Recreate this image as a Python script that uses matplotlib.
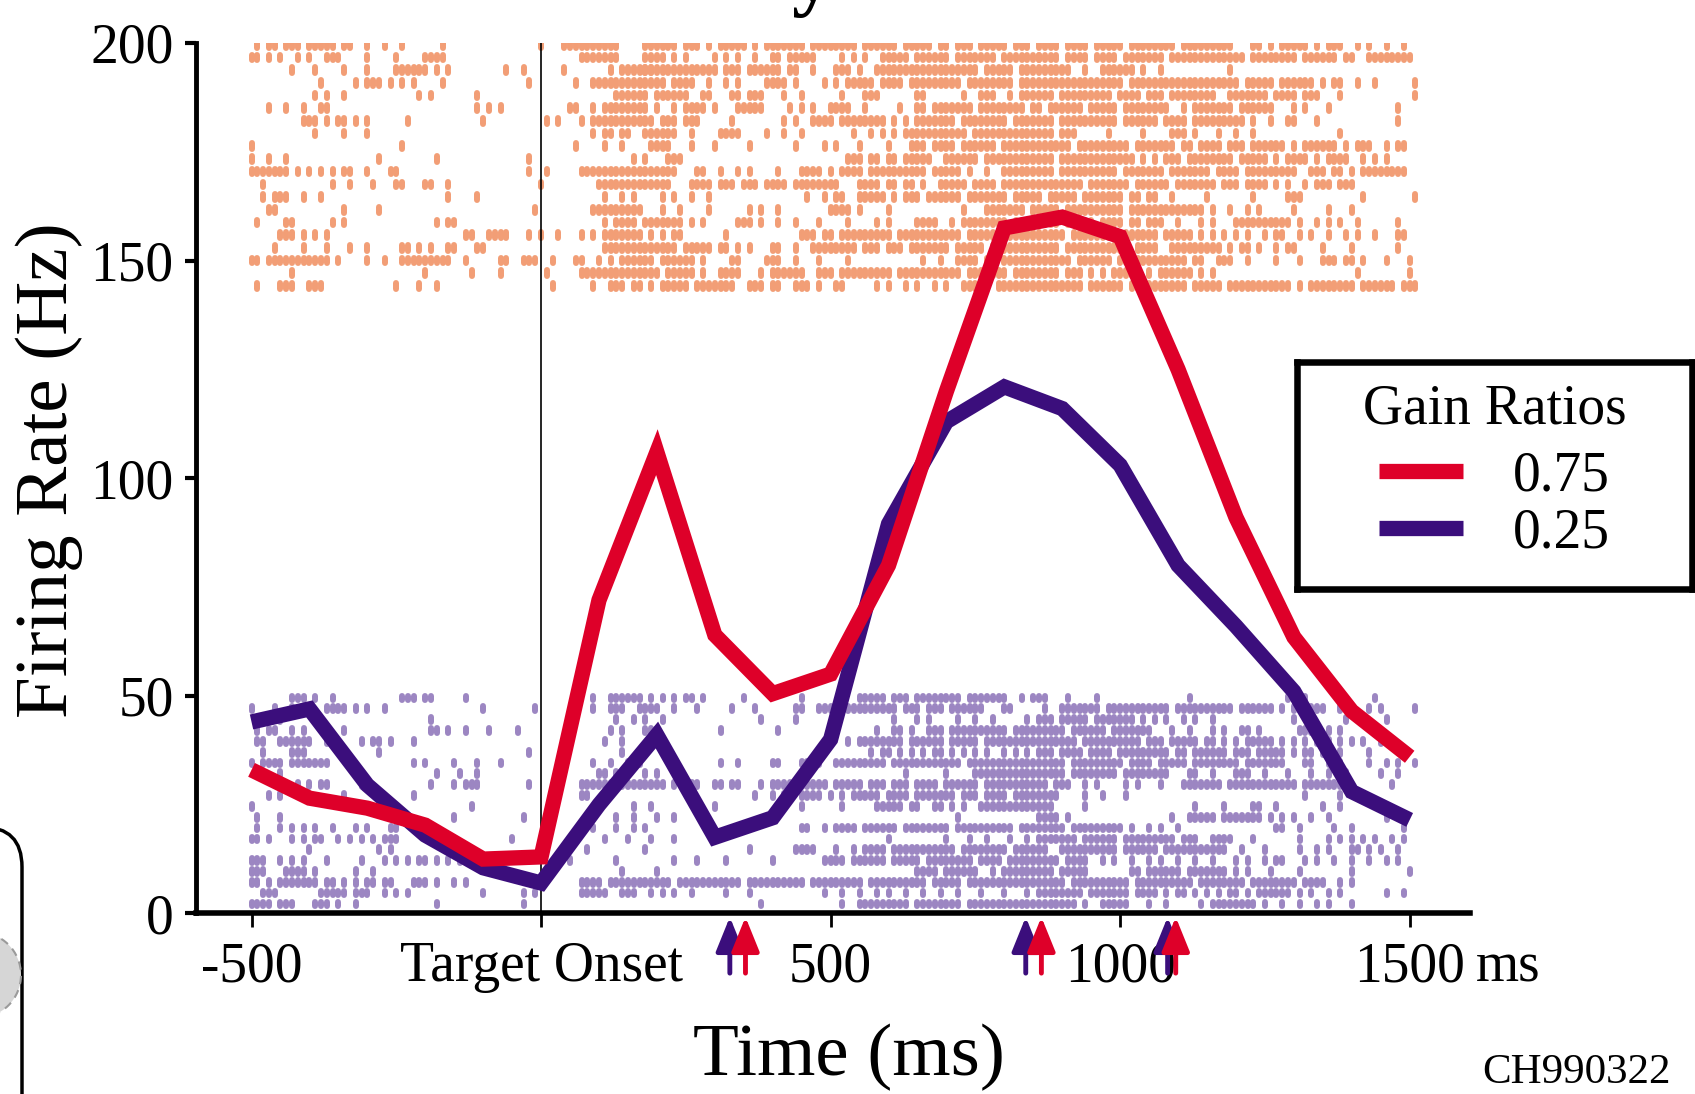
import numpy as np
import matplotlib
matplotlib.use("Agg")
import matplotlib.pyplot as plt
from matplotlib.patches import FancyBboxPatch, Circle

plt.rcParams['font.family'] = ['Liberation Serif', 'DejaVu Serif']

# mean firing rate, 100 ms steps
time_ms = [-500, -400, -300, -200, -100, 0, 100, 200, 300, 400, 500,
           600, 700, 800, 900, 1000, 1100, 1200, 1300, 1400, 1500]
rate_075 = [33, 26.5, 24.2, 20.3, 12.5, 13, 72, 106, 64, 50.5, 55,
            80, 120, 157.5, 160, 155.5, 125, 91, 63.5, 46.5, 36]
rate_025 = [44, 47, 29.5, 18, 10.5, 7, 25, 41, 17.5, 22, 40,
            89.5, 113, 121, 116, 103, 80, 66, 51, 28, 21.5]

# saccade-onset arrows (ms)
arrows_025 = [326, 837, 1082]
arrows_075 = [353, 864, 1096]

tick_ms = [-500, 0, 500, 1000, 1500]
tick_labels = ['-500', 'Target Onset', '500', '1000', '1500']

# spike rasters, one char per 10 ms bin starting at -500 ms, split in 3 chunks
# (bins 0-67, 68-135, 136-203); '#' = spike
raster_075 = [
    [".#.##.###.#####.##..#..#..#......#................#...##########",
     "######.###.#.#####.#.#######.########.######.#####.##.###.#####.###",
     "####.####.#####.########.#########...##.#.#####.#.###..#.#..#..#...."],
    ["##.#.#..#.#..###....#....#....####.......................#######",
     "####.#.#....#.#.#..#..##.#####....#.#.#..#####.######.#######.#######",
     "####.####.####.#####"+"##.#######"+"######.###"+"#####.####"+"##.##..###"+"#####.#."],
    [".......#...#....#...#....######.#.#.........#..#......#.......#.######",
     "##########"+"###.###.##"+"####.##..#"+"...###.#.."+"##########"+"########.#"+"####.###",
     "######..#."+".######.#."+".#........"+"...#......"+".........."+".........."+"........"],
    [".........."+"..#.....#."+"###.#.#.#."+"...#......"+"........#."+"......#..#"+"########",
     "####.####."+".#..#.#..."+".####.#..."+".#.#.#####"+".####.####"+"#####.####"+"####.###",
     "##########"+"#####.####"+"##########"+"#####.####"+"#.######.#"+".##..#..#."+".....#.."],
    [".........."+".#.#..#..."+".........#"+".#.......#"+".........."+".........."+"...#####",
     "#.######.."+"##...##.##"+"#...#..#.."+"....#...##"+"#......##."+".....#..##"+"#..#.###",
     "###.######"+"###.####.#"+"##.#######"+"#..#######"+".####.###."+"..#......."+".....#.."],
    ["...#..#..#"+"..##......"+".........."+".........#"+".#.#......"+".....##..#"+".#######",
     "#.#..#.###"+"#.#...####"+"#....#.#.#"+"..####..#."+"....#..##."+"#######.##"+"######.#",
     "#.######.#"+"####.#####"+"###..#.###"+"####.#####"+"#...#.#..."+"#........."+"..#....."],
    [".........#"+"##.#.##.#."+"#......#.."+".........."+"#........."+".#.#...#.#"+"########",
     "##.###.###"+".....#...."+"....#.#..#"+"###.######"+"##.#.#.###"+"####.#####"+"###.####",
     "###.######"+"####.#####"+"#.####.###"+"######.#.."+"#..##...#."+".........."+"..#....."],
    [".........."+".#....#..."+"#........."+".........."+".........."+".........#"+".##.##..",
     "######..#."+"...####..."+".#..#..#.."+"......#..#"+".#.#.#####"+"######.###"+"########",
     "###.###..."+"..#.....#."+"...###.#.."+".#..#..#.."+".........."+"..#......."+"........"],
    ["#........."+".........."+"......#..."+".........."+".........."+"......#..."+".#..#...",
     ".####...#."+"..#.....#."+"......#..."+".#.#...#.."+"..#...###."+"####.#####"+"#.######",
     "######.###"+"######.###"+"####.##.##"+"##.###.###"+"###.#.####"+"##.#.###.."+"#.##...."],
    ["#..#..#..."+".........."+"..#......."+"..#......."+"........#."+".........."+"......#.",
     "#...###..."+".........."+".........."+".....###.#"+"#.##.#####"+"..######.#"+"########",
     "###.######"+"#######.#."+"#.###.####"+"####.#####"+".#.####.#."+"####..#.#."+"#......."],
    ["#######.#."+"#.#.#.##.."+"#...##...."+".........."+"........#."+".#.....###"+"########",
     "######...#"+"#..#..#.#."+"...#...###"+"#.#.####.#"+"#########."+"#####.#..#"+"..######",
     "###.######"+"####.#####"+"##.#######"+".####.####"+"#####..###"+".##.#.####"+"####...."],
    ["..#......."+"....#..#.."+".#...##..."+"##..#....."+".........."+"#........."+"########",
     "#####...##"+"##.###.###"+".####.####"+"####...###"+"#.##.##.#."+".#####.###"+"#.######",
     "########.#"+"######.###"+"###.######"+"#.###.####"+".#.#..#.##"+"#.###....."+"......#."],
    ["..#.###..#"+"..#......."+".........."+"....#....#"+".........."+".........."+".#..#.#.",
     "...#.#..#."+".#........"+"........#."+".#.##..###"+"##.#.###.#"+"#####.####"+"###.####",
     "#.#####.##"+"#####.##.#"+"#..#.....#"+".......#.."+"...###...."+"......#..."+".....#.."],
    ["...##....."+"......#..."+"..#......."+".........."+".........#"+".........#"+"########",
     "...#..#..."+".#......#."+"#..#......"+"..####.#.."+"..#......."+".....#...#"+"######.#",
     "####.#####"+"#####.####"+"#########."+"#..#..#.#."+"....#....."+"#...#....."+"........"],
    [".#....##.."+"....#.#..."+".........."+"..#.##...."+".........."+".........."+".#.####.",
     "#######.#."+"#.....###."+"#..#..#..."+"#....#...."+"#.#....###"+"#..#.#####"+"###.####",
     "####.#####"+".####.##.#"+"##..#...#."+"#...######"+"####.#..#."+"#.#..#...."+"..#....."],
    [".....###.#"+".#.#......"+".........."+".......##."+".####...#."+"#..#...#.#"+".#######",
     ".#.#.##..."+"....#....."+".......###"+".##.######"+"###.######"+"#####.####"+"#.######",
     "#####.####"+"###.######"+"#.#####.#."+"#.#.#.#..#"+".##..#.#.."+"#..#.#..#."+"..##...."],
    ["....#....#"+"...#...#.."+"#.....##.#"+".#..##...#"+"#........."+".........."+".#######",
     "######.###"+"##.##.#.#."+"..##..#..#"+"#######.##"+"#.###.####"+"###.#####."+"########",
     "####.#####"+"######.###"+"#..#######"+"##.#.##.#."+".#.##....#"+"....#....."+"..#....."],
    ["##.#######"+"####.#...."+"#..#..####"+"#####..#.."+"...##..###"+"..#...##.."+"#.#.####",
     "##.######."+"#....##..."+".###..#..."+"#....#...."+"........#."+".#..####.#"+"#.######",
     "######.###"+"###.######"+"######.##."+".###..#..."+".#...#...#"+"##.##.#..."+"#...#..."],
    [".......#.."+".........."+".........."+"#.......#."+"...#......"+".#.....###"+"########",
     "###.#####."+"#..####..."+"#.######.."+"###.######"+"###.######"+"#####.####"+"###.####",
     "####.###.#"+".#.#####.#"+".######.#."+"#........."+".........."+".....#...."+"....#..."],
    [".#...###.."+"###......."+".....#...#"+"..#......."+".........."+"..#......#"+"..###.##",
     ".#.#####.#"+"######..##"+"#.##..###."+"#..##....."+"#.#..#.#.."+"#.#..#####"+".#######",
     "########.#"+"#####.####"+"######.###"+"##.#######"+"####.#.###"+"#####.####"+"##.#####"],
]

raster_025 = [
    [".......###"+".#..#....."+"......###."+"##.....#.."+".........."+".........#"+"..######",
     ".#.#.#.##."+"#......#.."+".......#.."+".......###"+"##.###.###"+"#####.####"+"###..#.#",
     "##...#...."+"#........."+"......#..."+".........."+"...#..#..."+"........#."+"........"],
    ["#...#..#.#"+"...####.#."+"#..#......"+".........."+"#........#"+".........#"+"..###..#",
     "###..#...#"+".....#...#"+"......##.."+"####.#####"+"####.###.#"+"##.######."+"..##....",
     ".#..######"+"#.########"+"###.######"+"####.#####"+"#.#.######"+"..#.#..#.#"+".....#.."],
    ["..#..#...."+".........."+".........."+".#........"+".........."+".........."+"...#..#.",
     "#..#......"+".........."+"#.....#..."+".........."+"...#...#.#"+"....#..#.."+"#.....#.",
     "###.#####."+"#######.#."+"#.#..#.#.."+"#........."+"....#..#.."+"...#......"+"#......."],
    [".#.##..#.#"+"...#..#..."+".........."+".##.#..#.."+".#....#..."+".........."+"..#.#...",
     "###......."+"...#......"+"...#......"+".........."+"#..##.#..#"+"##.#######"+"###.####",
     "#####.####"+"##.#######"+"...#..#..."+"#.#..##.#."+".....###.."+"#.#......."+"........"],
    [".##..#####"+"#..##....#"+".##.#...#."+".........."+".........."+".........."+".#..#...",
     ".........."+".........."+".........."+".....#.###"+"#####.####"+"##.#####.#"+"########",
     "#######.##"+"########.#"+"##.#####.#"+"#.#.#.####"+"#.#.#.#.##"+"#.#.#.#..#"+"........"],
    ["..#....###"+".........."+"..#......."+".........."+"........#."+".........."+"....#...",
     "#........."+".........."+".........."+".........#"+".##.#.#.#."+"##.#.#.#.#"+"..#.#.#.",
     "###.####.#"+"###.######"+"###.##.###"+"###.###.##"+"###.#.##.#"+"..#....#.."+"........"],
    ["#.####.###"+"####......"+"........#."+"#....#...#"+"...#......"+".........#"+"..#..###",
     ".........."+"...#..#..."+"..##...###"+"#..#######"+"##.#######"+"#####.####"+"########",
     "#####.####"+"#####.####"+".#####.###"+"#####.####"+"###...##.."+"#.#....#.."+"#.#..#.."],
    [".#...#...."+".........."+".........."+"..#...#..#"+".........."+".........."+"##.#.#..",
     "#.#......."+".........."+".........."+".........."+".....#...."+"..#....###"+"########",
     "#####.####"+"####.#####"+"###...##.."+"#...###..#"+"...#...#.."+"#..#.....#"+"..#....."],
    ["........#."+"#.##.....#"+".........."+".#...#.###"+"........#."+".......###"+"########",
     "####.#.###"+"..##.##..."+"#.########"+"##.#####.#"+"##.###.###"+"#.######.#"+"########",
     "##.###..#."+"#....#.#.."+".#...#####"+"##.#######"+"#####.####"+"###......."+".#......"],
    ["...#.#...."+"......#..."+"........#."+".........."+".........."+".......##."+"........",
     ".........."+".........#"+"..#.#..###"+"#.#.#.####"+"#.####.###"+"####.###.#"+"###.####",
     "####....#."+".#...#...."+".........."+".........."+"......#..."+"..#......."+"........"],
    ["#........."+".........."+".........."+"........#."+".........."+".........."+"......#.",
     ".#........"+"..#......."+".......#.."+"....#....."+"#####.##.."+"##.#.#..##"+"########",
     "###.....#."+".........."+".......#.."+"..#....##."+".#.......#"+"..#......."+"........"],
    [".#...#...."+".........."+".........."+".....#...."+".......#.."+".........."+"...#..#.",
     "..#..#...."+".........."+".........."+".........."+".........."+"....#....."+"........",
     "####.#...."+".........."+"...#..####"+"#.#######."+"#.#.#..#.."+"#........."+"#......."],
    [".#...#.#.#"+".#..#...#."+"#...##...."+".........."+".........."+".........#"+"...#..#.",
     "#........."+".........."+".......##."+".#.####.##"+"####.#####"+"###.######"+"####.###",
     "#####.####"+"#####.#..#"+".#..#....."+".........."+".##..#...."+".#..#....."+"...#...."],
    ["##.#...#.#"+".##..#.#.#"+".#.###...."+".#........"+".....#...."+"......#..."+".#...#..",
     ".#...#...."+".........."+".........."+".........."+"..#......."+"..#...#..#"+"...#..#.",
     "#######.##"+"####.#####"+"####.###.."+"####...#.."+".....#...."+"#.#.#.#.#."+".#.#...."],
    [".........."+"#........."+"..#.#....."+".........."+".........."+"........#."+"........",
     "#........."+"........#."+"......####"+"...#..#.##"+"##.#######"+"####.#####"+"###.####",
     "##..######"+"####.#####"+"#.########"+"###..#...#"+".....#..#."+"#...##.#.#"+"..#....."],
    ["###..#.#.#"+"...#.....#"+"...#.#.#.#"+"#.#.#.#..#"+".........."+".....#...."+"...#....",
     ".....#...#"+"....#....."+"..#......."+".####.####"+"##.#####.#"+"#######.##"+"##.#####",
     "####.####."+".#.#..#..#"+".#..#..#.."+"#...#.#..#"+".##...#.#."+".#..#..#.."+"#.#....."],
    ["###...####"+".#......#."+".#........"+".........."+".........."+".........."+"....#...",
     "..#......."+".........."+".........."+".........."+".......###"+"#.######.."+"#.######",
     "###.#####."+"......##.#"+"#####.####"+"###.#.#..."+"#....#...."+"....#....."+"....#..."],
    ["##.#.#####"+"##.##.#.#."+"##.##...##"+"#.#..#.#.."+".........."+".......###"+"#.######",
     "#####.####"+"#######.##"+"########.#"+"########.#"+"#########."+"#####.####"+"########",
     "#####.####"+"######.###"+"#######.##"+"######.###"+"#####.####"+"..#.#....."+"........"],
    ["..###....."+"..#####.##"+"#..#.#.#.."+".........."+"#......#.#"+".......###"+"##..###.",
     ".#.#.#..#."+"....#...#."+".........."+".#..#..#.."+"#.#..#..#."+".#..#...#."+"..#...#.",
     "########.#"+"######.###"+"#.#.##.#.#"+".#.##.#.##"+"####.#.#.."+"#.#......."+"#..#...."],
    ["####.###.."+".###.#..#."+".........."+"..#......."+".......#.."+".........."+"........",
     ".........."+".........."+"#........."+"....#..###"+"######.###"+"#####.####"+"########",
     "#######.#."+".#####...#"+"..#.....#."+"########.#"+"..#..#..#."+"#...#....."+"........"],
]

raster_color_075 = '#F29E76'
raster_color_025 = '#9C86C2'
line_color_075 = '#DE0029'
line_color_025 = '#3B0E7C'


def spike_times(chunks):
    times = []
    for offset, chunk in zip((0, 68, 136), chunks):
        for i, ch in enumerate(chunk):
            if ch == '#' and offset + i <= 201:
                times.append(-500 + 10 * (offset + i))
    return times


fig = plt.figure(figsize=(16.95, 10.94), dpi=100)
ax = fig.add_axes([0.1156, 0.1650, 0.7516, 0.7957])

ev1 = ax.eventplot([spike_times(r) for r in raster_075],
                   lineoffsets=np.linspace(199.6, 144.2, len(raster_075)),
                   linelengths=1.3, linewidths=4.3, colors=raster_color_075, zorder=1)
ev2 = ax.eventplot([spike_times(r) for r in raster_025],
                   lineoffsets=np.linspace(49.5, 2.2, len(raster_025)),
                   linelengths=1.1, linewidths=4.3, colors=raster_color_025, zorder=1)
for coll in ev1 + ev2:
    coll.set_capstyle('round')

ax.axvline(0, color='black', lw=1.2, zorder=2)

line_075, = ax.plot(time_ms, rate_075, color=line_color_075, lw=11,
                    solid_joinstyle='miter', solid_capstyle='butt', zorder=4)
line_025, = ax.plot(time_ms, rate_025, color=line_color_025, lw=11,
                    solid_joinstyle='miter', solid_capstyle='butt', zorder=3)

for t in arrows_025:
    ax.annotate('', xy=(t, -0.8), xytext=(t, -13.7), annotation_clip=False,
                arrowprops=dict(arrowstyle='-|>,head_length=2.1,head_width=0.85',
                                color=line_color_025, lw=3.5, shrinkA=0, shrinkB=0,
                                mutation_scale=10))
for t in arrows_075:
    ax.annotate('', xy=(t, -0.8), xytext=(t, -13.7), annotation_clip=False,
                arrowprops=dict(arrowstyle='-|>,head_length=2.1,head_width=0.85',
                                color=line_color_075, lw=3.5, shrinkA=0, shrinkB=0,
                                mutation_scale=10))

ax.set_xlim(-596, 1604)
ax.set_ylim(0, 200)
for side in ['top', 'right']:
    ax.spines[side].set_visible(False)
ax.spines['left'].set_linewidth(3.5)
ax.spines['bottom'].set_linewidth(4)
ax.set_yticks([0, 50, 100, 150, 200])
ax.set_xticks(tick_ms, tick_labels)
ax.tick_params(axis='y', direction='out', length=8, width=3, pad=8, labelsize=40)
ax.tick_params(axis='x', direction='out', length=10, width=2, pad=10, labelsize=40)
ax.annotate('ms', xy=(1500, 0), xytext=(48, -20), textcoords='offset points',
            ha='left', va='top', fontsize=40, annotation_clip=False)

fig.text(49 / 1695, 1 - 470 / 1094, 'Firing Rate (Hz)', rotation=90,
         ha='center', va='center', fontsize=54)
fig.text(849 / 1695, 1 - 1057 / 1094, 'Time (ms)', ha='center', va='center', fontsize=54)
fig.text(1576 / 1695, 1 - 1073 / 1094, 'CH990322', ha='center', va='center', fontsize=31)

# legend in its own framed box
lax = fig.add_axes([0.7652, 0.4616, 0.2330, 0.2075])
lax.set_xticks([])
lax.set_yticks([])
for sp in lax.spines.values():
    sp.set_linewidth(4.7)
lax.text(0.5, 0.79, 'Gain Ratios', transform=lax.transAxes, ha='center', va='center',
         fontsize=40)
lax.legend([line_075, line_025], ['0.75', '0.25'], loc='center',
           bbox_to_anchor=(0.5, 0.37), frameon=False, fontsize=40,
           handlelength=1.5, handletextpad=0.9, labelspacing=0.08)

# bits of the surrounding page cut off by the crop
fig.text(812 / 1695, 1.0, 'y', fontsize=60, fontweight='bold', va='baseline', ha='center')
fig.add_artist(FancyBboxPatch((-3.0, -1.0), 3.22, 3.67, transform=fig.dpi_scale_trans,
                              boxstyle='round,pad=0,rounding_size=0.4',
                              fill=False, edgecolor='black', lw=2.5))
fig.add_artist(Circle((-0.22, 1.19), 0.43, transform=fig.dpi_scale_trans,
                      facecolor='#d6d6d6', edgecolor='#9a9a9a', lw=1.5, ls=(0, (4, 3))))

fig.savefig('out.png', dpi=100)
